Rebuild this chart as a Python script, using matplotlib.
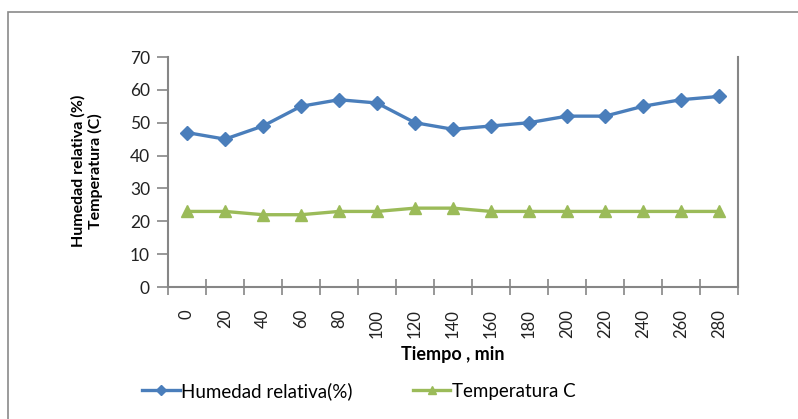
import matplotlib.pyplot as plt
from matplotlib.patches import Rectangle

# Humedad relativa y temperatura durante el secado
tiempo = [0, 20, 40, 60, 80, 100, 120, 140, 160, 180, 200, 220, 240, 260, 280]
humedad = [47, 45, 49, 55, 57, 56, 50, 48, 49, 50, 52, 52, 55, 57, 58]
temperatura = [23, 23, 22, 22, 23, 23, 24, 24, 23, 23, 23, 23, 23, 23, 23]
yticks = [0, 10, 20, 30, 40, 50, 60, 70]

plt.rcParams['font.family'] = ['Lato', 'DejaVu Sans']
axis_gray = '#868686'

fig = plt.figure(figsize=(7.98, 4.19), dpi=100)
fig.patches.append(Rectangle((7.5 / 798, -0.1), 1.2, 1.1 - 12.5 / 419,
                             transform=fig.transFigure, fill=False,
                             edgecolor='#8a8a8a', linewidth=1.2))

ax = fig.add_axes([168 / 798, 1 - 287 / 419, 570 / 798, 230 / 419])
pos = list(range(len(tiempo)))
ax.plot(pos, humedad, color='#4a7ebb', lw=2.4, marker='D', ms=7,
        label='Humedad relativa(%)')
ax.plot(pos, temperatura, color='#9bbb59', lw=2.4, marker='^', ms=8,
        label='Temperatura C')

ax.set_xlim(-0.5, len(tiempo) - 0.5)
ax.set_ylim(0, 70)
ax.set_yticks(yticks)
ax.set_xticks(pos)
ax.set_xticklabels([str(t) for t in tiempo], rotation=90, va='top')
ax.set_xticks([p - 0.5 for p in pos] + [len(tiempo) - 0.5], minor=True)
ax.tick_params(axis='x', which='major', length=0, pad=16, labelsize=12,
               labelcolor='#222222')
ax.tick_params(axis='x', which='minor', direction='inout', length=11,
               width=1.2, color=axis_gray)
ax.tick_params(axis='y', direction='out', length=8, width=1.2,
               color=axis_gray, labelsize=12.5, labelcolor='#222222', pad=5)

ax.spines['top'].set_visible(False)
for s in ['left', 'bottom', 'right']:
    ax.spines[s].set_color(axis_gray)
    ax.spines[s].set_linewidth(1.5)

ax.set_xlabel('Tiempo , min', fontweight='bold', fontsize=13, labelpad=6)
fig.text(87 / 798, 1 - 171 / 419, 'Humedad relativa (%)\nTemperatura (C)',
         rotation=90, ha='center', va='center', multialignment='center',
         fontweight='bold', fontsize=11.5, linespacing=1.2)

fig.legend(loc='center', bbox_to_anchor=(359 / 798, 1 - 391 / 419), ncol=2,
           frameon=False, fontsize=13.5, handlelength=2.0, handletextpad=0.1,
           columnspacing=3.2, markerscale=0.8)

fig.savefig('out.png', dpi=100)
